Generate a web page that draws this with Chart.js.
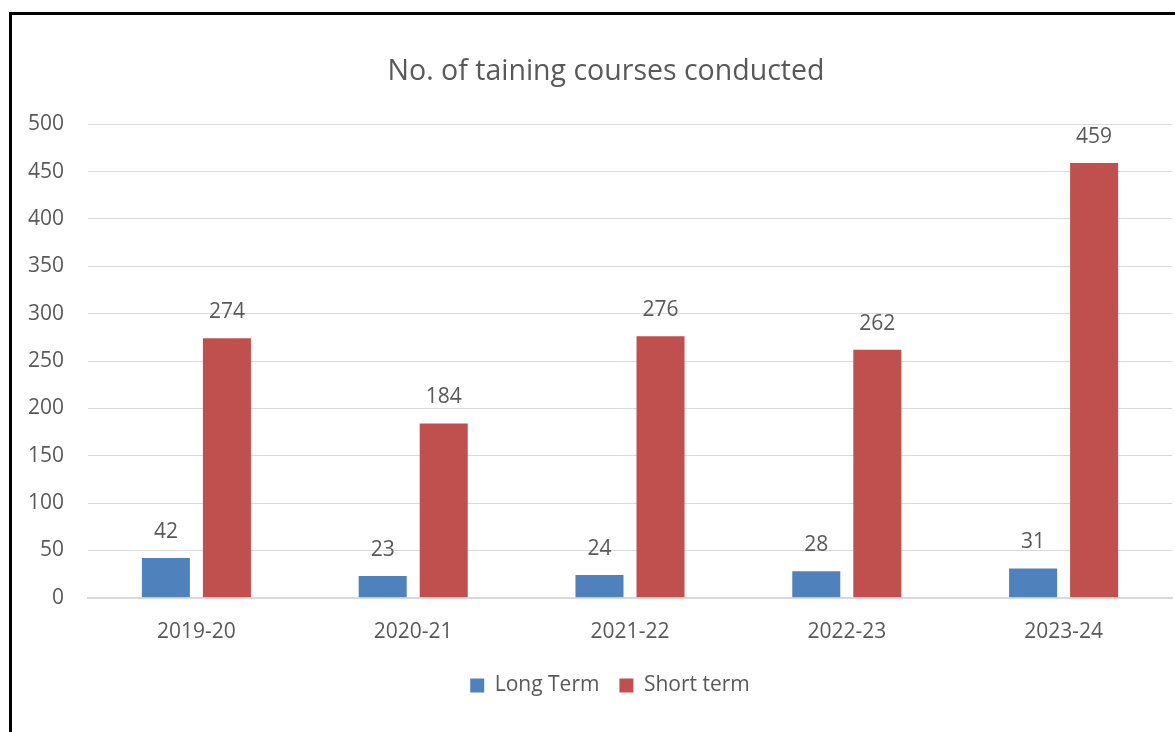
<!DOCTYPE html>
<html>
<head>
<meta charset="utf-8">
<script src="https://cdn.jsdelivr.net/npm/chart.js@4/dist/chart.umd.min.js"></script>
<style>
  body { margin: 0; background: #fff; overflow: hidden; }
  #wrap { position: relative; width: 1175px; height: 732px; }
  #frame {
    position: absolute; left: 9px; top: 12px; right: -10px; bottom: -10px;
    border-left: 3px solid #000; border-top: 3px solid #000;
    pointer-events: none;
  }
  canvas { position: absolute; left: 0; top: 0; }
</style>
</head>
<body>
<div id="wrap">
  <canvas id="chart" width="1175" height="732"></canvas>
  <div id="frame"></div>
</div>
<script>
const years = ["2019-20", "2020-21", "2021-22", "2022-23", "2023-24"];
const longTerm = [42, 23, 24, 28, 31];
const shortTerm = [274, 184, 276, 262, 459];
const yTicks = { min: 0, max: 500, step: 50 };

const textColor = "#595959";
const fontFamily = "'Open Sans', 'Noto Sans', sans-serif";

// labels above each bar
const barValues = {
  id: "barValues",
  afterDatasetsDraw(chart) {
    const ctx = chart.ctx;
    ctx.save();
    ctx.fillStyle = textColor;
    ctx.font = "21px " + fontFamily;
    ctx.textAlign = "center";
    ctx.textBaseline = "middle";
    chart.data.datasets.forEach((ds, i) => {
      chart.getDatasetMeta(i).data.forEach((bar, j) => {
        ctx.fillText(ds.data[j], bar.x, bar.y - 26);
      });
    });
    ctx.restore();
  },
};

// the original frame runs past the right edge, so title and legend sit a bit right of centre
const shiftBlocks = {
  id: "shiftBlocks",
  afterLayout(chart) {
    chart.titleBlock.left += 20;
    chart.titleBlock.right += 20;
    chart.legend.left += 24;
    chart.legend.right += 24;
    chart.legend.top -= 4;
    chart.legend.bottom -= 4;
  },
};

new Chart(document.getElementById("chart").getContext("2d"), {
  type: "bar",
  data: {
    labels: years,
    datasets: [
      {
        label: "Long Term",
        data: longTerm,
        backgroundColor: "#4f81bd",
      },
      {
        label: "Short term",
        data: shortTerm,
        backgroundColor: "#c0504d",
      },
    ],
  },
  options: {
    responsive: false,
    animation: false,
    categoryPercentage: 0.563,
    barPercentage: 0.787,
    layout: { padding: { left: 0, right: 3, top: 55, bottom: 22 } },
    plugins: {
      title: {
        display: true,
        text: "No. of taining courses conducted",
        color: textColor,
        font: { family: fontFamily, size: 28.5, weight: "normal" },
        padding: { top: 0, bottom: 35 },
      },
      legend: {
        position: "bottom",
        labels: {
          color: textColor,
          font: { family: fontFamily, size: 21 },
          boxWidth: 14,
          boxHeight: 14,
          padding: 20,
        },
      },
      tooltip: { enabled: false },
    },
    scales: {
      x: {
        grid: { display: false },
        border: { color: "#d9d9d9", width: 2 },
        ticks: {
          color: textColor,
          font: { family: fontFamily, size: 21 },
          padding: 14,
        },
      },
      y: {
        min: yTicks.min,
        max: yTicks.max,
        border: { display: false },
        grid: { color: "#d9d9d9", drawTicks: false },
        ticks: {
          stepSize: yTicks.step,
          color: textColor,
          font: { family: fontFamily, size: 21 },
          padding: 24,
        },
        afterFit(scale) {
          scale.width = 88;
        },
      },
    },
  },
  plugins: [barValues, shiftBlocks],
});
</script>
</body>
</html>
